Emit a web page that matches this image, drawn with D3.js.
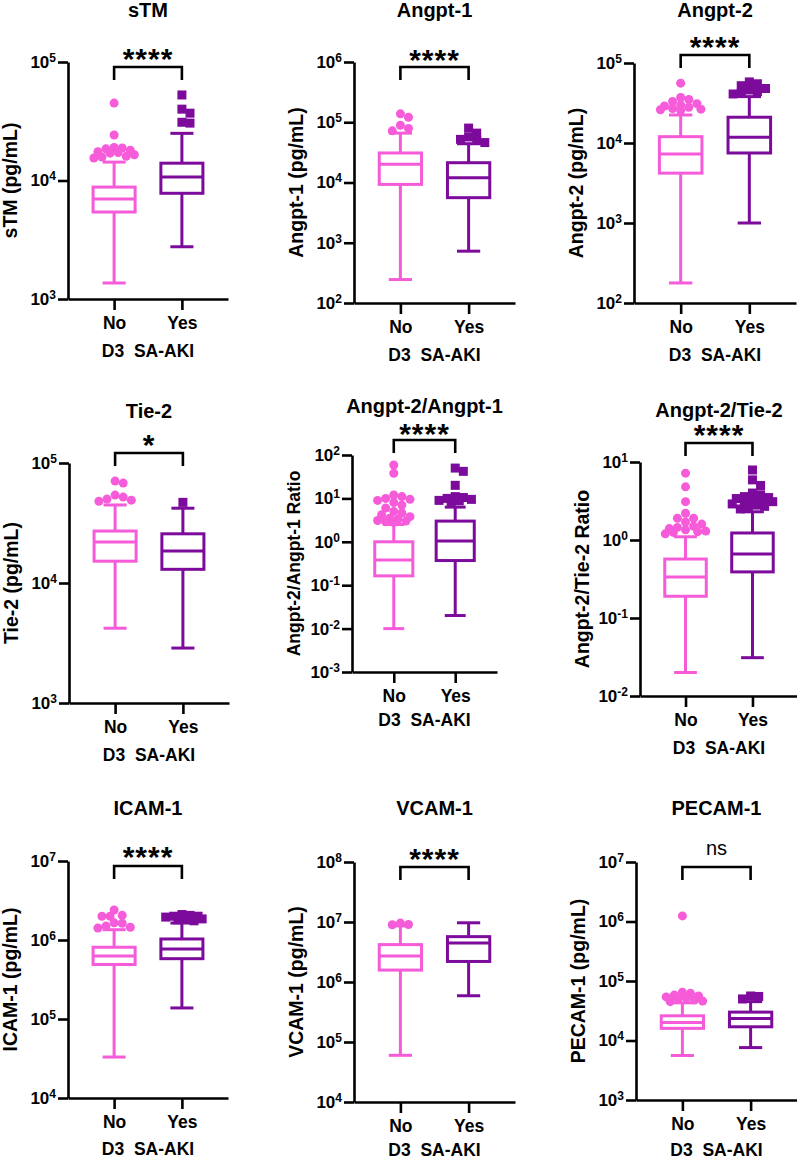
<!DOCTYPE html>
<html>
<head>
<meta charset="utf-8">
<script src="https://cdn.jsdelivr.net/npm/d3@7"></script>
<style>
  body { margin: 0; background: #fff; }
  svg { display: block; font-family: "Liberation Sans", Arial, sans-serif; }
  .domain, .tick line { stroke: #000; stroke-width: 2.6; }
</style>
</head>
<body>
<div id="chart-area"></div>
<script>
(() => {

  const categories = ['No', 'Yes'];
  const xTitle = 'D3\u00a0\u00a0SA-AKI';

  const panelTitles = ['sTM', 'Angpt-1', 'Angpt-2', 'Tie-2', 'Angpt-2/Angpt-1',
    'Angpt-2/Tie-2', 'ICAM-1', 'VCAM-1', 'PECAM-1'];
  const yTitles = ['sTM (pg/mL)', 'Angpt-1 (pg/mL)', 'Angpt-2 (pg/mL)', 'Tie-2 (pg/mL)',
    'Angpt-2/Angpt-1 Ratio', 'Angpt-2/Tie-2 Ratio', 'ICAM-1 (pg/mL)', 'VCAM-1 (pg/mL)',
    'PECAM-1 (pg/mL)'];
  const sigLabels = ['****', '****', '****', '*', '****', '****', '****', '****', 'ns'];

  // exponent range of each log axis (10^a .. 10^b)
  const decades = [[3, 5], [2, 6], [2, 5], [3, 5], [-3, 2], [-2, 1], [4, 7], [4, 8], [3, 7]];

  // [low whisker, Q1, median, Q3, high whisker]
  const noBoxes = [
    [1365, 5420, 6980, 8800, 14300],
    [245, 9300, 20000, 30900, 66000],
    [178, 4200, 7300, 12000, 22400],
    [4200, 15200, 22000, 27100, 44700],
    [0.01, 0.164, 0.38, 1.0, 2.5],
    [0.02, 0.19, 0.335, 0.57, 1.1],
    [33000, 490000, 627000, 810000, 1350000],
    [60000, 1580000, 2700000, 4200000, 8600000],
    [5600, 16000, 20000, 26000, 43000]
  ];
  const yesBoxes = [
    [2760, 7800, 10700, 14000, 25000],
    [725, 5600, 12000, 21300, 44000],
    [1000, 7500, 11800, 21000, 38000],
    [2870, 13000, 18500, 25700, 42000],
    [0.02, 0.37, 1.05, 3.0, 6.3],
    [0.031, 0.39, 0.66, 1.23, 2.3],
    [138000, 580000, 770000, 1030000, 1640000],
    [590000, 2200000, 4450000, 5700000, 9700000],
    [7600, 17000, 23500, 30000, 45000]
  ];

  const noOutliers = [
    [45000, 24200, 19000, 18500, 18000, 17500, 17200, 17000, 16500, 16000, 15800, 15500, 18800],
    [138000, 121000, 89000, 79000, 72000],
    [56000, 37000, 35000, 33000, 31000, 30000, 29000, 28000, 27000, 26500, 26000, 25500],
    [70700, 68000, 54000, 52000, 50000, 49000, 48000],
    [59, 38, 12, 11, 10, 9.5, 9, 8, 7, 6, 5, 4.6, 4.2, 3.8, 3.5, 3.3, 3.1, 3.0, 2.9, 2.8],
    [7.2, 4.8, 3.1, 2.2, 1.9, 1.9, 1.7, 1.6, 1.5, 1.45, 1.4, 1.35, 1.3, 1.28, 1.25, 1.2],
    [2400000, 2050000, 2000000, 2000000, 1650000, 1630000, 1500000, 1450000, 1420000],
    [9600000, 9100000, 9000000],
    [1240000, 65000, 62000, 58000, 56000, 54000, 52000, 50000, 48000, 46000, 45000]
  ];
  const yesOutliers = [
    [52700, 40000, 37000, 31000, 30500],
    [80000, 66000, 57000, 52000, 50000, 46000],
    [58000, 55000, 52000, 48000, 46000, 44000, 42000, 41000],
    [47000],
    [50, 42, 20, 11, 10.5, 10, 9.5, 9, 8.8, 8.5],
    [7.9, 5.9, 5.0, 4.0, 3.8, 3.6, 3.5, 3.4, 3.3, 3.2, 3.1, 3.0, 2.9, 2.8, 2.7, 2.6, 2.5],
    [2100000, 2050000, 2000000, 2000000, 1950000, 1900000, 1850000, 1800000, 1750000],
    [],
    [56000, 55000, 50000]
  ];

  // panel placement on the page
  const layout = [
    { ax: 68, top: 62, bottom: 299, w: 160, title: 17, sig: 57, bracket: 67 },
    { ax: 354, top: 62, bottom: 303, w: 161, title: 17, sig: 58, bracket: 67 },
    { ax: 634, top: 63, bottom: 303, w: 162, title: 17, sig: 45, bracket: 55 },
    { ax: 69, top: 463, bottom: 703, w: 160, title: 418, sig: 443, bracket: 453 },
    { ax: 352, top: 455, bottom: 672, w: 145, title: 413, sig: 432, bracket: 440, yFont: 17.5, gap: 54 },
    { ax: 640, top: 462, bottom: 696, w: 158, title: 417, sig: 433, bracket: 443 },
    { ax: 68, top: 861, bottom: 1098, w: 160, title: 815, sig: 855, bracket: 866, gap: 57 },
    { ax: 354, top: 862, bottom: 1102, w: 161, title: 815, sig: 857, bracket: 867, gap: 54 },
    { ax: 636, top: 862, bottom: 1100, w: 161, title: 815, sig: 855, bracket: 867, gap: 56 }
  ];

  const pink = '#f65bd9';
  const purple = '#7c0b9c';

  const svg = d3.select('#chart-area').append('svg')
    .attr('width', 797)
    .attr('height', 1161);

  // small beeswarm: spread tied outliers sideways, but stay within the box width
  function swarm(values, y, cx, r, limit) {
    const placed = [];
    const offsets = [0];
    for (let k = 1; k * r * 0.9 <= limit; k++) offsets.push(k * r * 0.9, -k * r * 0.9);
    [...values].sort((a, b) => b - a).forEach(v => {
      const py = y(v);
      let best = cx, bestD = -1;
      for (const o of offsets) {
        const px = cx + o;
        const d = placed.length ? d3.min(placed, p => Math.hypot(p.x - px, p.y - py)) : Infinity;
        if (d >= r * 1.6) { best = px; bestD = d; break; }
        if (d > bestD) { best = px; bestD = d; }
      }
      placed.push({ v, x: best, y: py });
    });
    return placed;
  }

  layout.forEach((L, i) => {
    const g = svg.append('g');

    const y = d3.scaleLog()
      .domain([Math.pow(10, decades[i][0]), Math.pow(10, decades[i][1])])
      .range([L.bottom, L.top]);

    const x = d3.scalePoint()
      .domain(categories)
      .range([L.ax, L.ax + L.w])
      .padding(0.68);

    const step = x.step();
    const boxW = step * 0.62;
    const capW = step * 0.34;
    const mid = (x('No') + x('Yes')) / 2;

    // y axis with 10^n labels
    const ticks = d3.range(decades[i][0], decades[i][1] + 1).map(e => Math.pow(10, e));
    const yAxis = g.append('g')
      .attr('transform', `translate(${L.ax},0)`)
      .call(d3.axisLeft(y).tickValues(ticks).tickSize(10).tickSizeOuter(0).tickPadding(2));
    yAxis.selectAll('.tick text')
      .attr('font-size', 17)
      .attr('font-weight', 'bold')
      .attr('fill', '#000')
      .text(null)
      .each(function(d) {
        const t = d3.select(this);
        t.append('tspan').text('10');
        t.append('tspan').attr('font-size', 12).attr('dy', -6)
          .text(Math.round(Math.log10(d)));
      });

    // x axis
    const xAxis = g.append('g')
      .attr('transform', `translate(0,${L.bottom})`)
      .call(d3.axisBottom(x).tickSize(11).tickSizeOuter(0).tickPadding(7));
    xAxis.selectAll('.tick text')
      .attr('font-size', 17.5)
      .attr('font-weight', 'bold')
      .attr('fill', '#000');

    g.append('text')
      .attr('x', mid)
      .attr('y', L.bottom + (L.gap || 58))
      .attr('text-anchor', 'middle')
      .attr('font-size', 17.5)
      .attr('font-weight', 'bold')
      .text(xTitle);

    // panel title
    g.append('text')
      .attr('x', mid)
      .attr('y', L.title)
      .attr('text-anchor', 'middle')
      .attr('font-size', 20)
      .attr('font-weight', 'bold')
      .text(panelTitles[i]);

    // y title
    g.append('text')
      .attr('transform', `translate(${L.ax - 58},${(L.top + L.bottom) / 2}) rotate(-90)`)
      .attr('text-anchor', 'middle')
      .attr('dy', '0.35em')
      .attr('font-size', L.yFont || 19.5)
      .attr('font-weight', 'bold')
      .text(yTitles[i]);

    // significance bracket
    g.append('path')
      .attr('d', `M${x('No')},${L.bracket + 13}V${L.bracket}H${x('Yes')}V${L.bracket + 13}`)
      .attr('fill', 'none')
      .attr('stroke', '#000')
      .attr('stroke-width', 2.6);

    const isNs = sigLabels[i] === 'ns';
    g.append('text')
      .attr('x', mid)
      .attr('y', isNs ? L.sig : L.sig + 12)
      .attr('text-anchor', 'middle')
      .attr('font-size', isNs ? 20 : 30)
      .attr('font-weight', isNs ? 'normal' : 'bold')
      .attr('letter-spacing', isNs ? 0 : 1)
      .text(sigLabels[i]);

    // boxes
    const groups = [
      { cat: 'No', stats: noBoxes[i], outl: noOutliers[i], color: pink, shape: 'circle' },
      { cat: 'Yes', stats: yesBoxes[i], outl: yesOutliers[i], color: purple, shape: 'square' }
    ];

    groups.forEach(s => {
      const cx = x(s.cat);
      const [lo, q1, med, q3, hi] = s.stats;
      const bg = g.append('g')
        .attr('stroke', s.color)
        .attr('stroke-width', 3)
        .attr('fill', 'none');

      bg.append('line').attr('x1', cx).attr('x2', cx).attr('y1', y(q3)).attr('y2', y(hi));
      bg.append('line').attr('x1', cx).attr('x2', cx).attr('y1', y(q1)).attr('y2', y(lo));
      bg.append('line').attr('x1', cx - capW / 2).attr('x2', cx + capW / 2).attr('y1', y(hi)).attr('y2', y(hi));
      bg.append('line').attr('x1', cx - capW / 2).attr('x2', cx + capW / 2).attr('y1', y(lo)).attr('y2', y(lo));
      bg.append('rect')
        .attr('x', cx - boxW / 2)
        .attr('y', y(q3))
        .attr('width', boxW)
        .attr('height', y(q1) - y(q3))
        .attr('fill', '#fff');
      bg.append('line').attr('x1', cx - boxW / 2).attr('x2', cx + boxW / 2).attr('y1', y(med)).attr('y2', y(med));

      const r = 4.5;
      const pts = swarm(s.outl, y, cx, r, boxW / 2);
      if (s.shape === 'circle') {
        g.append('g').selectAll('circle')
          .data(pts)
          .enter().append('circle')
            .attr('cx', d => d.x)
            .attr('cy', d => d.y)
            .attr('r', r)
            .attr('fill', s.color);
      } else {
        g.append('g').selectAll('rect')
          .data(pts)
          .enter().append('rect')
            .attr('x', d => d.x - r)
            .attr('y', d => d.y - r)
            .attr('width', r * 2)
            .attr('height', r * 2)
            .attr('fill', s.color);
      }
    });
  });

})();
</script>
</body>
</html>
